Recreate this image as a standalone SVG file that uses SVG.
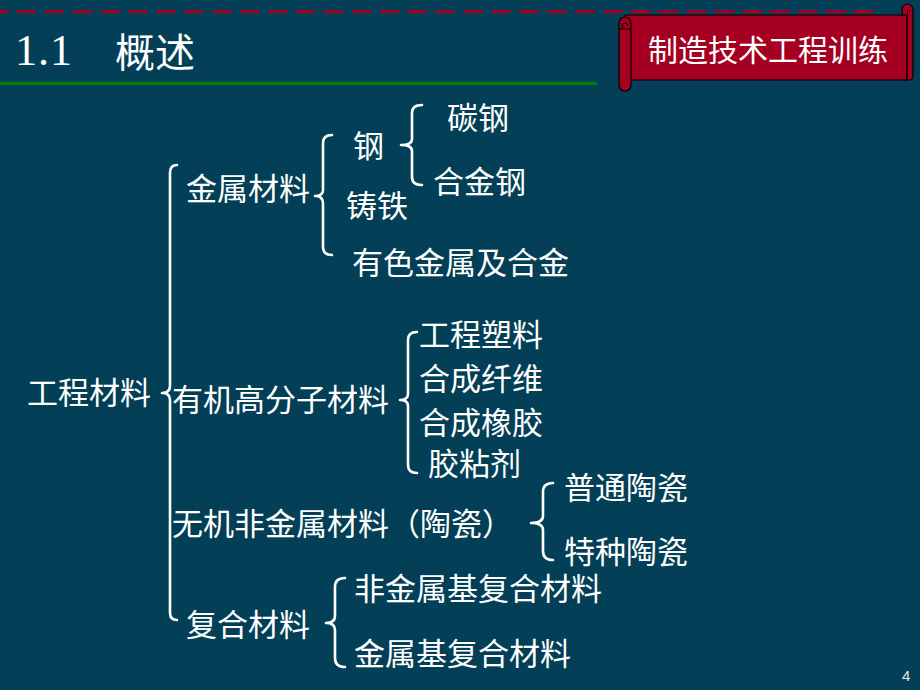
<svg xmlns="http://www.w3.org/2000/svg" width="920" height="690" viewBox="0 0 920 690">
  <style>
    .t { font-family: "Noto Sans CJK SC", "Noto Sans", sans-serif; font-size: 31px; fill: #FFFFFF; }
    .br { fill: none; stroke: #FFFFFF; stroke-width: 2.6; stroke-linecap: round; stroke-linejoin: round; }
    .scroll { fill: #A50021; stroke: #000000; stroke-width: 1.2; }
  </style>
  <rect x="0" y="0" width="920" height="690" fill="#033F56"/>

  <!-- header -->
  <g id="header">
    <line x1="0" y1="11.5" x2="877" y2="11.5" stroke="#A50021" stroke-width="3" stroke-dasharray="19.5 8.4" stroke-dashoffset="11"/>
    <line x1="0" y1="83.5" x2="597" y2="83.5" stroke="#008000" stroke-width="3"/>
    <text x="15" y="65" font-family="Liberation Serif, serif" font-size="44" fill="#FFFFFF" textLength="57" lengthAdjust="spacing">1.1</text>
    <text x="115" y="67" font-family="Noto Sans CJK SC, sans-serif" font-size="40" fill="#FFFFFF">概述</text>
  </g>

  <!-- scroll banner -->
  <g id="banner">
    <path class="scroll" d="M 625 15 H 907 V 78 Q 907 80 905 80 H 625 Z"/>
    <path class="scroll" d="M 902 15 V 9.5 A 5.5 5.5 0 0 1 913 9.5 V 76 Q 913 80 909 80 H 905 Q 907 80 907 78 V 15 Z"/>
    <path fill="none" stroke="#000" stroke-width="1" d="M 907.5 15 V 10 A 2.5 2.5 0 0 1 910 12"/>
    <path class="scroll" d="M 619 23 A 6 6 0 0 1 631 23 V 85 A 6 6 0 0 1 619 85 Z"/>
    <path fill="none" stroke="#000" stroke-width="1" d="M 625 29 A 3 3 0 1 1 628 26 M 619 29 H 631"/>
    <text x="768" y="61" font-family="Noto Sans CJK SC, sans-serif" font-size="30" fill="#FFFFFF" text-anchor="middle">制造技术工程训练</text>
  </g>

  <!-- connectors (braces) -->
  <g id="connectors">
    <path class="br" d="M 177 165 Q 170 165 170 173 L 170 386 Q 170 393 162 393 Q 170 393 170 400 L 170 613 Q 170 620 177 620"/>
    <path class="br" d="M 332 135 Q 323 135 323 143 L 323 190 Q 323 196 315 196 Q 323 196 323 203 L 323 247 Q 323 255 332 255"/>
    <path class="br" d="M 422 105 Q 412 105 412 113 L 412 139 Q 412 145 401 145 Q 412 145 412 151 L 412 177 Q 412 185 422 185"/>
    <path class="br" d="M 417 332 Q 408 332 408 340 L 408 394 Q 408 400 400 400 Q 408 400 408 406 L 408 465 Q 408 473 417 473"/>
    <path class="br" d="M 553 483 Q 543 483 543 492 L 543 516 Q 543 523 531 523 Q 543 523 543 530 L 543 551 Q 543 560 553 560"/>
    <path class="br" d="M 345 578 Q 335 578 335 587 L 335 616 Q 335 623 326 623 Q 335 623 335 630 L 335 658 Q 335 667 345 667"/>
  </g>

  <g id="n-gongchengcailiao"><text class="t" x="27" y="403.5">工程材料</text></g>
  <g id="n-jinshucailiao"><text class="t" x="186" y="199.5">金属材料</text></g>
  <g id="n-gang"><text class="t" x="353" y="156.5">钢</text></g>
  <g id="n-tangang"><text class="t" x="447" y="128.5">碳钢</text></g>
  <g id="n-hejingang"><text class="t" x="433" y="192.5">合金钢</text></g>
  <g id="n-zhutie"><text class="t" x="346" y="216.5">铸铁</text></g>
  <g id="n-youse"><text class="t" x="352" y="273.5">有色金属及合金</text></g>
  <g id="n-youji"><text class="t" x="172" y="410.5">有机高分子材料</text></g>
  <g id="n-suliao"><text class="t" x="419" y="345.5">工程塑料</text></g>
  <g id="n-xianwei"><text class="t" x="419" y="389.5">合成纤维</text></g>
  <g id="n-xiangjiao"><text class="t" x="419" y="433.5">合成橡胶</text></g>
  <g id="n-jiaonianji"><text class="t" x="428" y="474.5">胶粘剂</text></g>
  <g id="n-wuji"><text class="t" x="172" y="534.5">无机非金属材料（陶瓷）</text></g>
  <g id="n-putong"><text class="t" x="564" y="498.5">普通陶瓷</text></g>
  <g id="n-tezhong"><text class="t" x="564" y="562.5">特种陶瓷</text></g>
  <g id="n-fuhe"><text class="t" x="186" y="635.5">复合材料</text></g>
  <g id="n-feijinshuji"><text class="t" x="354" y="599.5">非金属基复合材料</text></g>
  <g id="n-jinshuji"><text class="t" x="354" y="664.5">金属基复合材料</text></g>

  <g id="page-number"><text x="902" y="681" font-family="Liberation Sans, sans-serif" font-size="15" fill="#E6E6E6">4</text></g>
</svg>
